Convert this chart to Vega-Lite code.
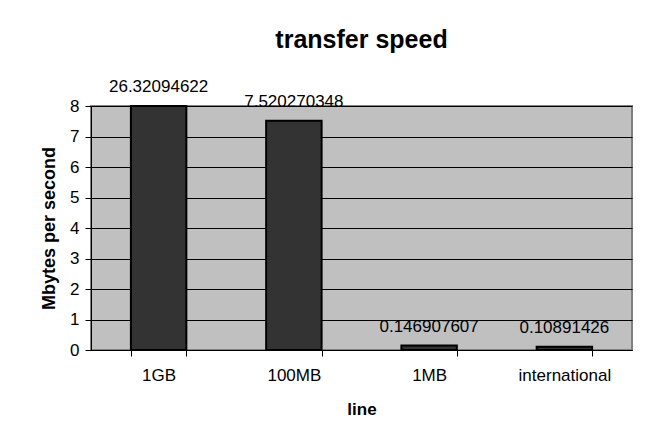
{
  "$schema": "https://vega.github.io/schema/vega-lite/v6.json",
  "width": 541,
  "height": 244,
  "autosize": "none",
  "padding": {"left": 91, "top": 106, "right": 26, "bottom": 92},
  "background": "white",
  "title": {"text": "transfer speed", "fontSize": 25, "fontWeight": "bold", "font": "Liberation Sans", "color": "black", "anchor": "middle", "offset": 25},
  "data": {"values": [
    {"line": "1GB", "speed": 26.32094622},
    {"line": "100MB", "speed": 7.520270348},
    {"line": "1MB", "speed": 0.146907607},
    {"line": "international", "speed": 0.10891426}
  ]},
  "encoding": {
    "x": {"field": "line", "type": "nominal", "sort": null,
      "scale": {"paddingInner": 0.59, "paddingOuter": 0.295},
      "axis": {"title": "line", "labelAngle": 0, "tickBand": "extent", "tickSize": 6, "labelPadding": 11, "titlePadding": 18}},
    "y": {"field": "speed", "type": "quantitative",
      "scale": {"domain": [0, 8], "clamp": true, "nice": false},
      "axis": {"title": "Mbytes per second", "values": [0,1,2,3,4,5,6,7,8], "tickSize": 6, "labelPadding": 6, "titlePadding": 11, "grid": true}}
  },
  "layer": [
    {"mark": {"type": "bar", "fill": "#333333", "stroke": "black", "strokeWidth": 2}},
    {"mark": {"type": "text", "baseline": "alphabetic", "dy": -14, "fontSize": 17, "color": "black", "font": "Liberation Sans"},
     "encoding": {"text": {"field": "speed", "type": "nominal"}}}
  ],
  "config": {
    "font": "Liberation Sans",
    "view": {"fill": "#c0c0c0", "stroke": "#808080", "strokeWidth": 2},
    "axis": {
      "labelFont": "Liberation Sans", "labelFontSize": 17, "labelColor": "black",
      "titleFont": "Liberation Sans", "titleFontSize": 17, "titleFontWeight": "bold", "titleColor": "black",
      "domainColor": "black", "domainWidth": 1, "tickColor": "black", "tickWidth": 1,
      "gridColor": "black", "gridWidth": 1, "gridOpacity": 1
    },
    "axisY": {"titleFontSize": 18},
    "axisX": {"grid": false}
  }
}
